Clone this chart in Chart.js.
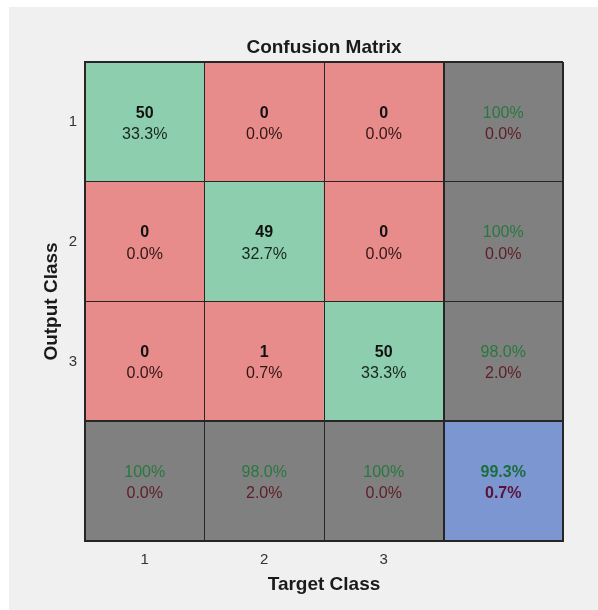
<!DOCTYPE html>
<html><head><meta charset="utf-8">
<script src="https://cdn.jsdelivr.net/npm/chart.js"></script>
<style>html,body{margin:0;padding:0;background:#fff;overflow:hidden}</style>
</head><body>
<canvas id="c" width="598" height="610"></canvas>
<script>
// ---- data ----
const targetClasses = ['1', '2', '3'];
const outputClasses = ['1', '2', '3'];
const counts = [
  [50, 0, 0],
  [0, 49, 0],
  [0, 1, 50]
];
const cellPercents = [
  ['33.3%', '0.0%', '0.0%'],
  ['0.0%', '32.7%', '0.0%'],
  ['0.0%', '0.7%', '33.3%']
];
const rowCorrect = ['100%', '100%', '98.0%'];
const rowError = ['0.0%', '0.0%', '2.0%'];
const colCorrect = ['100%', '98.0%', '100%'];
const colError = ['0.0%', '2.0%', '0.0%'];
const overallCorrect = '99.3%';
const overallError = '0.7%';
const cellSpan = [1, 1, 1, 1]; // each cell spans one unit on the row axis

// ---- styles ----
const FONT = '"Liberation Sans", Arial, Helvetica, sans-serif';
Chart.defaults.font.family = FONT;
const GREEN = '#8ccead', RED = '#e78b8b', GRAY = '#808080', BLUE = '#7b96d1';
const LINE = '#262626';

const xLabels = [...targetClasses, ''];
const nRows = outputClasses.length + 1;

function cellColor(r, c) {
  const n = outputClasses.length;
  if (r < n && c < n) return r === c ? GREEN : RED;
  if (r === n && c === n) return BLUE;
  return GRAY;
}

const datasets = [];
for (let r = 0; r < nRows; r++) {
  datasets.push({
    label: r < outputClasses.length ? 'Output ' + outputClasses[r] : 'Summary',
    data: cellSpan.slice(),
    backgroundColor: xLabels.map((_, c) => cellColor(r, c)),
    borderWidth: 0,
    barPercentage: 1,
    categoryPercentage: 1,
    stack: 'm'
  });
}

const bgPlugin = {
  id: 'bg',
  beforeDraw(chart) {
    const ctx = chart.ctx;
    ctx.save();
    ctx.fillStyle = '#ffffff';
    ctx.fillRect(0, 0, chart.width, chart.height);
    ctx.fillStyle = '#f0f0f0';
    ctx.fillRect(9, 7, chart.width - 9, chart.height - 7);
    ctx.restore();
  }
};

const textPlugin = {
  id: 'cellText',
  afterDatasetsDraw(chart) {
    const ctx = chart.ctx;
    const n = outputClasses.length;
    ctx.save();
    ctx.textAlign = 'center';
    ctx.textBaseline = 'middle';
    for (let r = 0; r < nRows; r++) {
      const meta = chart.getDatasetMeta(r);
      meta.data.forEach((el, c) => {
        const cx = el.x;
        const cy = (el.y + el.base) / 2;
        let l1, l2, c1, c2, b1, b2;
        if (r < n && c < n) {
          l1 = String(counts[r][c]); l2 = cellPercents[r][c];
          c1 = '#111111'; c2 = r === c ? '#17261e' : '#331616';
          b1 = true; b2 = false;
        } else if (r < n && c === n) {
          l1 = rowCorrect[r]; l2 = rowError[r];
          c1 = '#27783f'; c2 = '#5e1d26'; b1 = b2 = false;
        } else if (r === n && c < n) {
          l1 = colCorrect[c]; l2 = colError[c];
          c1 = '#27783f'; c2 = '#5e1d26'; b1 = b2 = false;
        } else {
          l1 = overallCorrect; l2 = overallError;
          c1 = '#1b6d3d'; c2 = '#5c1236'; b1 = b2 = true;
        }
        ctx.font = (b1 ? 'bold ' : '') + '16px ' + FONT;
        ctx.fillStyle = c1;
        ctx.fillText(l1, cx, cy - 9);
        ctx.font = (b2 ? 'bold ' : '') + '16px ' + FONT;
        ctx.fillStyle = c2;
        ctx.fillText(l2, cx, cy + 12.5);
      });
    }
    ctx.restore();
  }
};

new Chart(document.getElementById('c'), {
  type: 'bar',
  data: { labels: xLabels, datasets },
  plugins: [bgPlugin, textPlugin],
  options: {
    responsive: false,
    animation: false,
    events: [],
    layout: { padding: { left: 0, right: 35, top: 0, bottom: 0 } },
    plugins: {
      legend: { display: false },
      tooltip: { enabled: false },
      title: {
        display: true,
        text: 'Confusion Matrix',
        fullSize: false,
        color: '#1a1a1a',
        font: { size: 19, weight: 'bold' },
        padding: { top: 36.6, bottom: 2.6 }
      }
    },
    scales: {
      x: {
        type: 'category',
        stacked: true,
        offset: true,
        grid: {
          offset: true,
          drawTicks: false,
          color: LINE,
          lineWidth: (ctx) => (ctx.index === undefined || ctx.index === 0 || ctx.index === 3) ? 2 : 1,
          z: 1
        },
        border: { display: true, color: LINE, width: 2, z: 1 },
        ticks: { padding: 10, color: '#333333', font: { size: 15 } },
        title: {
          display: true, text: 'Target Class', color: '#1a1a1a',
          font: { size: 19, weight: 'bold' },
          padding: { top: 0, bottom: 13.6 }
        },
        afterFit: (s) => { s.height = 69; }
      },
      y: {
        type: 'linear',
        stacked: true,
        min: 0,
        max: nRows,
        reverse: true,
        grid: {
          drawTicks: false,
          color: LINE,
          lineWidth: (ctx) => (ctx.tick && (ctx.tick.value === 0 || ctx.tick.value === 3 || ctx.tick.value === 4)) ? 2 : 1,
          z: 1
        },
        border: { display: true, color: LINE, width: 2, z: 1 },
        ticks: {
          stepSize: 1,
          padding: 8,
          labelOffset: 60,
          color: '#333333',
          font: { size: 15 },
          callback: (v) => (outputClasses[v] !== undefined ? outputClasses[v] : '')
        },
        title: {
          display: true, text: 'Output Class', color: '#1a1a1a',
          font: { size: 19, weight: 'bold' },
          padding: { top: 40.6, bottom: 0 }
        },
        afterFit: (s) => { s.width = 85; }
      }
    }
  }
});
</script>
</body></html>
